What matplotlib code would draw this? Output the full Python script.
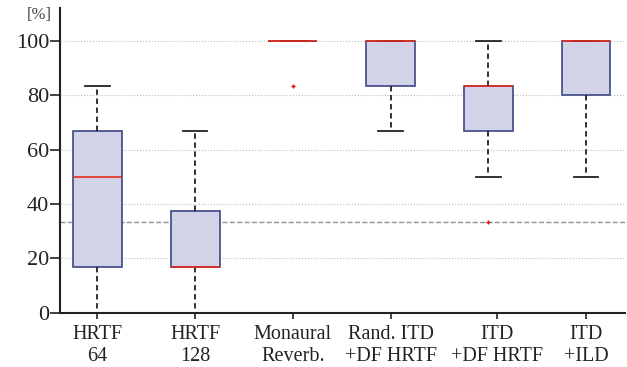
import matplotlib.pyplot as plt

plt.rcParams['font.family'] = ['Liberation Serif', 'DejaVu Serif']

# Kategorie i statystyki boxplotów (w %)
labels = ["HRTF\n64", "HRTF\n128", "Monaural\nReverb.", "Rand. ITD\n+DF HRTF", "ITD\n+DF HRTF", "ITD\n+ILD"]
whislo = [0, 0, 100, 66.7, 50, 50]
q1 = [16.7, 16.7, 100, 83.3, 66.7, 80]
med = [50, 16.7, 100, 100, 83.3, 100]
q3 = [66.7, 37.5, 100, 100, 83.3, 100]
whishi = [83.3, 66.7, 100, 100, 100, 100]
fliers = [[], [], [83.3], [], [33.3], []]
chance = 33.3

stats = []
for i in range(len(labels)):
    stats.append({"label": labels[i], "whislo": whislo[i], "q1": q1[i], "med": med[i],
                  "q3": q3[i], "whishi": whishi[i], "fliers": fliers[i]})

fig = plt.figure(figsize=(6.27, 3.67), dpi=100)
ax = fig.add_axes([0.096, 0.148, 0.901, 0.83])

# Siatka i linia poziomu przypadku
for y in [20, 40, 60, 80, 100]:
    ax.axhline(y, color="#bdbdbd", linestyle=":", linewidth=0.8, zorder=0)
ax.axhline(chance, color="#909090", linestyle="--", linewidth=1.0, zorder=1)

ax.bxp(stats, widths=0.5, patch_artist=True,
       boxprops=dict(facecolor="#d2d2e8", edgecolor="#3c4685", linewidth=1.2),
       medianprops=dict(color="#e8291c", linewidth=1.2),
       whiskerprops=dict(color="#222222", linestyle=(0, (3, 2)), linewidth=1.3),
       capprops=dict(color="#222222", linewidth=1.3),
       capwidths=0.25,
       flierprops=dict(marker="+", markeredgecolor="red", markersize=3.5, markeredgewidth=1.0),
       zorder=3)

# etykiety osi x - piąta lekko przesunięta w prawo, jak w oryginale
ax.set_xticks([1, 2, 3, 4, 5.09, 6])
ax.set_xticklabels(labels)
ax.set_xlim(0.62, 6.4)
ax.set_ylim(0, 112)
ax.set_yticks([0, 20, 40, 60, 80, 100])
ax.tick_params(axis="y", direction="out", length=7, width=1.2, labelsize=16, colors="#222222", pad=1)
ax.tick_params(axis="x", direction="out", length=4, width=1.2, labelsize=14.5, colors="#222222", pad=5)
for s in ["top", "right"]:
    ax.spines[s].set_visible(False)
for s in ["left", "bottom"]:
    ax.spines[s].set_linewidth(1.5)
    ax.spines[s].set_color("#222222")

fig.text(0.043, 0.958, "[%]", fontsize=12, color="#444444", ha="left", va="center")

plt.savefig("out.png")
